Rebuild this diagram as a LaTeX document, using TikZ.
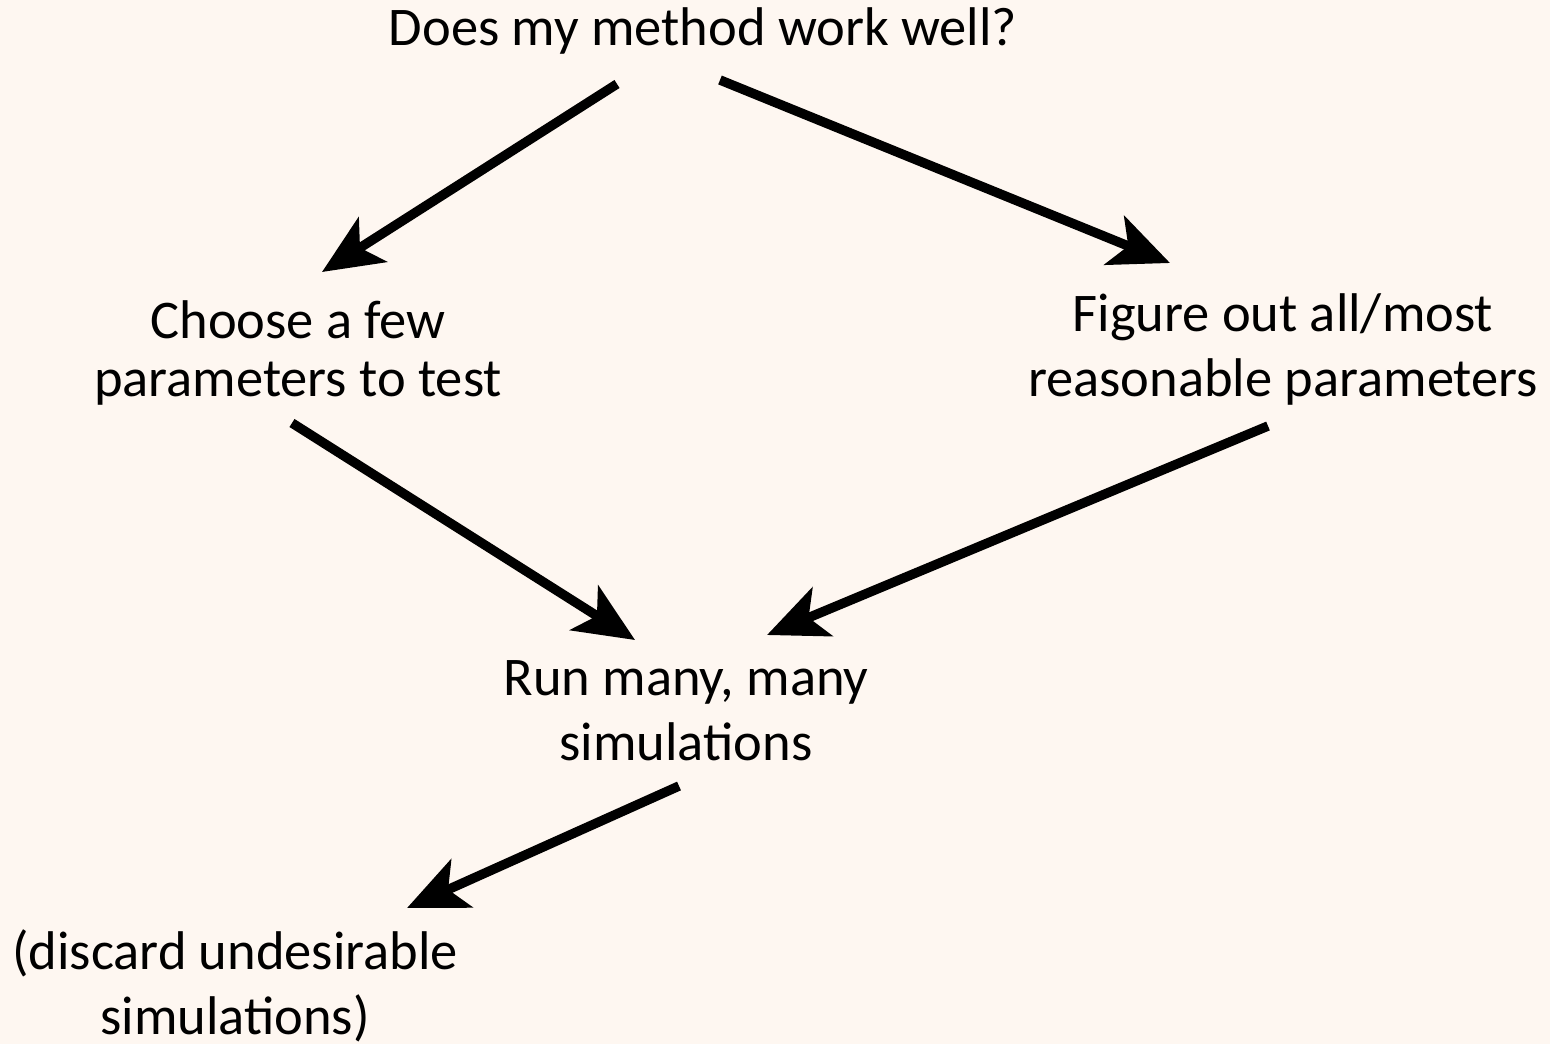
\documentclass[tikz,border=0pt]{standalone}
\usepackage{fontspec}
\setmainfont{Carlito}
\usetikzlibrary{arrows.meta}
\definecolor{paper}{HTML}{FEF7F1}

\begin{document}
\begin{tikzpicture}[x=0.02cm,y=-0.02cm]
		\tikzstyle{every node}+=[inner sep=0pt, align=center, font=\fontsize{31}{37}\selectfont]
		\tikzstyle{tight}=[font=\fontsize{31}{32.5}\selectfont]
		\tikzstyle{arr}=[line width=5.4pt, -{Stealth[length=1.2cm, width=1.05cm, inset=0.3cm]}]
		\fill [paper] (0,0) rectangle (1550,1044);
		\useasboundingbox (0,0) rectangle (1550,1044);
		\node (question) at (703,31) {Does my method work well?};
		\node [tight] (choose) at (298,353) {Choose a few\\parameters to test};
		\node (figure) at (1283,349) {Figure out all/most\\reasonable parameters};
		\node (run) at (686,711) {Run many, many\\simulations};
		\node (discard) at (235,986) {(discard undesirable\\simulations)};
		\draw [arr] ([shift={(-86,53)}]question.center) -- ([shift={(24,-81)}]choose.center);
		\draw [arr] ([shift={(17,49)}]question.center) -- ([shift={(-113,-86)}]figure.center);
		\draw [arr] ([shift={(-6,70)}]choose.center) -- ([shift={(-51,-71)}]run.center);
		\draw [arr] ([shift={(-15,77)}]figure.center) -- ([shift={(81,-76)}]run.center);
		\draw [arr] ([shift={(-7,75)}]run.center) -- ([shift={(172,-78)}]discard.center);
	\end{tikzpicture}
\end{document}
